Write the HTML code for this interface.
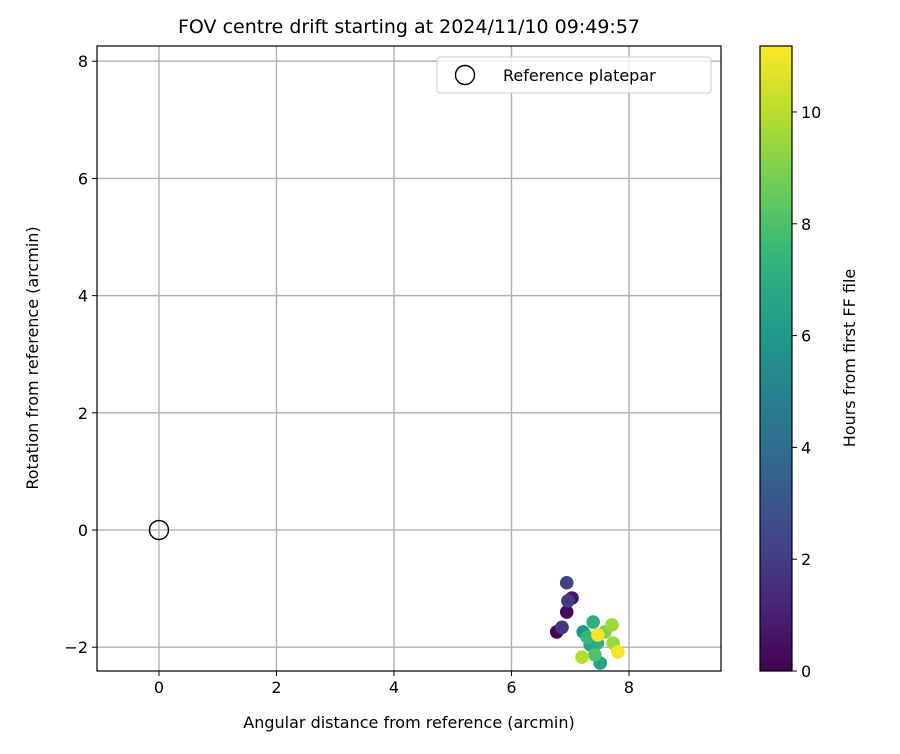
<!DOCTYPE html>
<html><head><meta charset="utf-8"><style>
body{margin:0;background:#fff;font-family:"DejaVu Sans","Liberation Sans",sans-serif}
svg text{font-family:"DejaVu Sans","Liberation Sans",sans-serif}
</style></head><body>
<svg id="c" width="900" height="750" xmlns="http://www.w3.org/2000/svg"></svg>
<script>
const xs=[6.94,6.77,7.03,6.86,6.96,6.94,7.22,7.34,7.51,7.46,7.29,7.39,7.42,7.59,7.73,7.71,7.20,7.81,7.47];
const ys=[-1.40,-1.74,-1.16,-1.66,-1.21,-0.90,-1.74,-1.96,-2.27,-1.93,-1.83,-1.57,-2.13,-1.74,-1.93,-1.62,-2.17,-2.08,-1.79];
const hours=[0.3,0.2,0.7,1.8,2.0,2.2,6.0,6.5,6.5,7.0,7.5,7.0,8.0,9.0,9.5,9.5,10.0,11.0,11.1];
const xTicks=[0,2,4,6,8];
const yTicks=[-2,0,2,4,6,8];
const cTicks=[0,2,4,6,8,10];
const NS="http://www.w3.org/2000/svg";
const svg=document.getElementById('c');
const L=97,R=721,T=46,B=671;
const xMin=-1.055,xMax=9.566,yMin=-2.406,yMax=8.26,cMax=11.18;
const X=v=>L+(v-xMin)/(xMax-xMin)*(R-L);
const Y=v=>B-(v-yMin)/(yMax-yMin)*(B-T);
const vir=[[68,1,84],[72,40,120],[62,74,137],[49,104,142],[38,130,142],[31,158,137],[53,183,121],[109,205,89],[180,222,44],[253,231,37]];
function col(t){t=Math.max(0,Math.min(1,t))*(vir.length-1);const i=Math.min(Math.floor(t),vir.length-2),f=t-i;const a=vir[i],b=vir[i+1];return `rgb(${a.map((v,k)=>Math.round(v+(b[k]-v)*f)).join(',')})`;}
function el(tag,attrs,txt){const e=document.createElementNS(NS,tag);for(const k in attrs)e.setAttribute(k,attrs[k]);if(txt!==undefined)e.textContent=txt;svg.appendChild(e);return e;}
xTicks.forEach(v=>{const x=X(v);
const g=el('line',{x1:x,x2:x,y1:T,y2:B,stroke:'#b0b0b0','stroke-width':1.4});


el('line',{x1:x,x2:x,y1:B,y2:B+5,stroke:'#000'});
const t=el('text',{x:x,y:B+22,'text-anchor':'middle','font-size':16},v);

});
yTicks.forEach(v=>{const y=Y(v);
const g=el('line',{x1:L,x2:R,y1:y,y2:y,stroke:'#b0b0b0','stroke-width':1.4});


el('line',{x1:L-5,x2:L,y1:y,y2:y,stroke:'#000'});
const t=el('text',{x:L-9,y:y+6,'text-anchor':'end','font-size':16},v<0?'\u2212'+(-v):v);

});
const rc=el('circle',{cx:X(0),cy:Y(0),r:9.5,fill:'none',stroke:'#000','stroke-width':1.4});


xs.forEach((v,i)=>{const p=el('circle',{cx:X(v),cy:Y(ys[i]),r:6.8,fill:col(hours[i]/cMax)});

});
const fr=el('rect',{x:L,y:T,width:R-L,height:B-T,fill:'none',stroke:'#000','stroke-width':1.2});


const lg=el('rect',{x:437,y:57,width:274,height:36,rx:3,fill:'#fff','fill-opacity':0.8,stroke:'#ccc'});


el('circle',{cx:465,cy:75,r:9.5,fill:'none',stroke:'#000','stroke-width':1.4});
const lt=el('text',{x:503,y:81,'font-size':16},'Reference platepar');


const tt=el('text',{x:409,y:33,'text-anchor':'middle','font-size':19},'FOV centre drift starting at 2024/11/10 09:49:57');


const xt=el('text',{x:409,y:728,'text-anchor':'middle','font-size':16},'Angular distance from reference (arcmin)');


const yt=el('text',{x:38,y:358,'text-anchor':'middle','font-size':16,transform:'rotate(-90 38 358)'},'Rotation from reference (arcmin)');


const CL=760,CR=792;
const defs=el('defs',{});
const gr=document.createElementNS(NS,'linearGradient');gr.setAttribute('id','vg');gr.setAttribute('x1','0');gr.setAttribute('y1','1');gr.setAttribute('x2','0');gr.setAttribute('y2','0');
vir.forEach((c,i)=>{const s=document.createElementNS(NS,'stop');s.setAttribute('offset',i/(vir.length-1));s.setAttribute('stop-color',`rgb(${c.join(',')})`);gr.appendChild(s);});
defs.appendChild(gr);
const cb=el('rect',{x:CL,y:T,width:CR-CL,height:B-T,fill:'url(#vg)',stroke:'#000','stroke-width':1.2});


cTicks.forEach(v=>{const y=B-v/cMax*(B-T);
el('line',{x1:CR,x2:CR+5,y1:y,y2:y,stroke:'#000'});
const t=el('text',{x:CR+9,y:y+6,'font-size':16},v);

});
const ct=el('text',{x:855,y:358,'text-anchor':'middle','font-size':16,transform:'rotate(-90 855 358)'},'Hours from first FF file');


</script>
</body></html>
